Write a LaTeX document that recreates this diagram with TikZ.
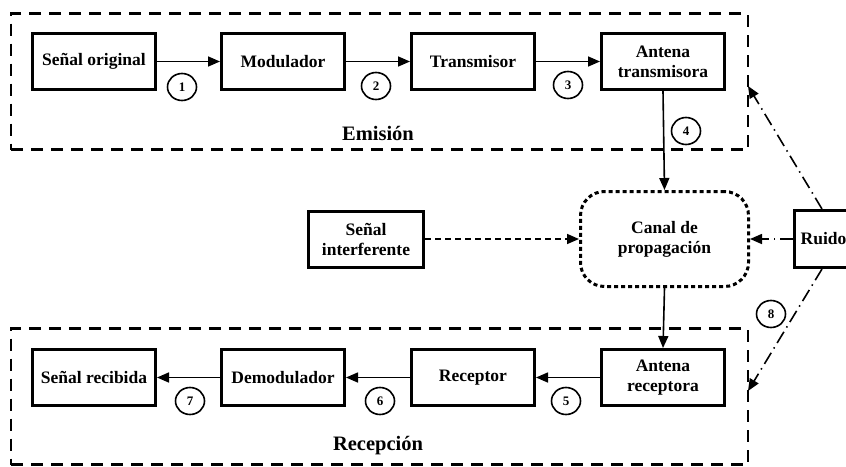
\documentclass[tikz,border=0pt]{standalone}
\usepackage{fontspec}
\setmainfont{Liberation Serif}
\usetikzlibrary{arrows.meta,calc,shapes.geometric}
\begin{document}
\begin{tikzpicture}[x=1pt,y=-1pt,
 blk/.style={draw, line width=3pt, minimum width=123pt, minimum height=56pt, align=center, font=\fontsize{17.5}{20}\selectfont\bfseries, inner sep=2pt},
 grp/.style={draw, line width=2.1pt, dash pattern=on 12pt off 8pt, minimum width=737pt, minimum height=136pt, inner sep=0pt},
 num/.style={draw, ellipse, line width=1.6pt, minimum width=29pt, minimum height=27pt, inner sep=0pt, font=\fontsize{13}{15}\selectfont\bfseries},
 arr/.style={line width=1.6pt, -{Triangle[length=12pt,width=10pt]}},
 lbl/.style={font=\fontsize{20.5}{24}\selectfont\bfseries},
 dd/.style={line width=1.6pt, dash pattern=on 13pt off 5pt on 1.5pt off 5pt},
]
\useasboundingbox (0,0) rectangle (846,466);
% group boxes
\node[grp] (emi) at (379.5,81.5) {};
\node[grp] (rec) at (379.5,396.5) {};
\node[lbl] (lblE) at (378,133) {Emisión};
\node[lbl] (lblR) at (378,446) {Recepción};
% top row
\node[blk] (so) at (94,61.5) {Señal original};
\node[blk] (mo) at (283,61.5) {Modulador};
\node[blk] (tr) at (473,61.5) {Transmisor};
\node[blk] (at) at (663,61.5) {Antena\\transmisora};
% bottom row
\node[blk] (sr) at (94,377.5) {Señal recibida};
\node[blk] (de) at (283,377.5) {Demodulador};
\node[blk] (re) at (473,377.5) {Receptor};
\node[blk] (ar) at (663,377.5) {Antena\\receptora};
% middle
\node[blk, minimum width=115pt] (si) at (366,239) {Señal\\interferente};
\node[draw, rounded corners=24pt, line width=3pt, dash pattern=on 4pt off 3pt, minimum width=168pt, minimum height=95pt, align=center, font=\fontsize{17.5}{20}\selectfont\bfseries] (canal) at (664.5,239) {Canal de\\propagación};
\node[draw, line width=3pt, anchor=west, minimum width=58pt, minimum height=57pt, inner xsep=0pt, font=\fontsize{17.5}{20}\selectfont\bfseries] (ruido) at (793,239) {Ruido};
% arrows
\draw[arr] (so) -- (mo);
\draw[arr] (mo) -- (tr);
\draw[arr] (tr) -- (at);
\draw[arr] (at.south) -- (canal.north);
\draw[arr] (canal.south) -- (ar.north);
\draw[arr] (ar) -- (re);
\draw[arr] (re) -- (de);
\draw[arr] (de) -- (sr);
\draw[arr, dash pattern=on 6pt off 4pt] (si) -- (canal);
\draw[arr, dd] (ruido) -- (canal);
\coordinate (rt) at (822,209);
\coordinate (rb) at (822,269);
\coordinate (et) at (748,86);
\coordinate (eb) at (748,391);
\draw[arr, dd] (rt) -- (et);
\draw[arr, dd] (rb) -- (eb);
% numbers
\node[num] (n1) at (182,87) {1};
\node[num] (n2) at (376,86) {2};
\node[num] (n3) at (568,85) {3};
\node[num] (n4) at (686,131) {4};
\node[num] (n5) at (566,401) {5};
\node[num] (n6) at (380,401) {6};
\node[num] (n7) at (190,401) {7};
\node[num] (n8) at (771,314) {8};
\end{tikzpicture}
\end{document}
